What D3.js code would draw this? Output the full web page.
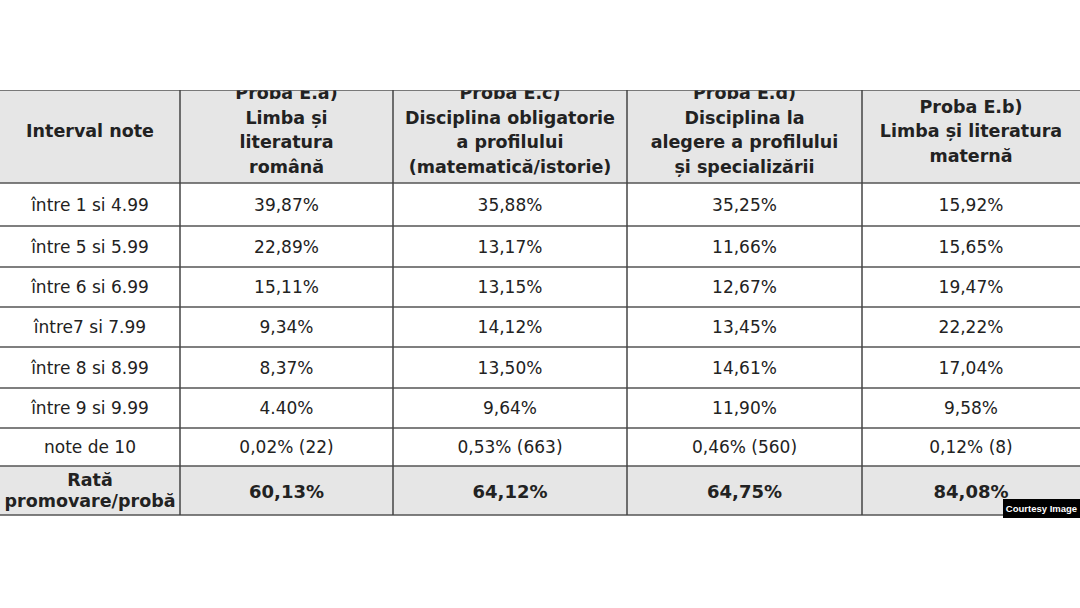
<!DOCTYPE html>
<html><head><meta charset="utf-8">
<script src="https://cdn.jsdelivr.net/npm/d3@7"></script>
<style>body{margin:0;background:#fff}</style></head>
<body><svg id="c" width="1080" height="608"></svg>
<script>
const headers = [
  ["Interval note"],
  ["Proba E.a)","Limba și","literatura","română"],
  ["Proba E.c)","Disciplina obligatorie","a profilului","(matematică/istorie)"],
  ["Proba E.d)","Disciplina la","alegere a profilului","și specializării"],
  ["Proba E.b)","Limba și literatura","maternă"]
];
const intervals = ["între 1 si 4.99","între 5 si 5.99","între 6 si 6.99","între7 si 7.99","între 8 si 8.99","între 9 si 9.99","note de 10"];
const probaEa = ["39,87%","22,89%","15,11%","9,34%","8,37%","4.40%","0,02% (22)"];
const probaEc = ["35,88%","13,17%","13,15%","14,12%","13,50%","9,64%","0,53% (663)"];
const probaEd = ["35,25%","11,66%","12,67%","13,45%","14,61%","11,90%","0,46% (560)"];
const probaEb = ["15,92%","15,65%","19,47%","22,22%","17,04%","9,58%","0,12% (8)"];
const rataLabel = ["Rată","promovare/probă"];
const rata = ["60,13%","64,12%","64,75%","84,08%"];

const svg = d3.select("#c");
const colEdges = [0,180,393,627,862,1080];
const rowEdges = [90,183,226,267,307,347,388,428,466,515];
const cx = i => (colEdges[i]+colEdges[i+1])/2;
const y = i => rowEdges[i], cy = i => (rowEdges[i]+rowEdges[i+1])/2;
const font = "'DejaVu Sans', Verdana, sans-serif";
const col = "#222";

svg.append("defs").append("clipPath").attr("id","cl").append("rect").attr("x",0).attr("y",90).attr("width",1080).attr("height",430);
const g = svg.append("g").attr("clip-path","url(#cl)");
g.append("rect").attr("x",0).attr("y",y(0)).attr("width",1080).attr("height",y(1)-y(0)).attr("fill","#e6e6e6");
g.append("rect").attr("x",0).attr("y",y(8)).attr("width",1080).attr("height",y(9)-y(8)).attr("fill","#e6e6e6");

headers.forEach((lines,c)=>{
  const n = lines.length, lh = 24.5;
  const mid = n===4 ? 130 : 131;
  lines.forEach((t,k)=>{
    g.append("text").attr("x",cx(c)).attr("y",mid+(k-(n-1)/2)*lh+6)
     .attr("text-anchor","middle").attr("font-family",font).attr("font-size",17.5)
     .attr("font-weight","bold").attr("fill",col).text(t);
  });
});
const cols = [intervals, probaEa, probaEc, probaEd, probaEb];
cols.forEach((arr,c)=>arr.forEach((t,r)=>{
  g.append("text").attr("x",cx(c)).attr("y",cy(r+1)+6).attr("text-anchor","middle")
   .attr("font-family",font).attr("font-size",17).attr("fill",col).text(t);
}));
rataLabel.forEach((t,k)=>g.append("text").attr("x",cx(0)).attr("y",cy(8)+(k-0.5)*21+6)
  .attr("text-anchor","middle").attr("font-family",font).attr("font-size",17.5).attr("font-weight","bold").attr("fill",col).text(t));
rata.forEach((t,c)=>g.append("text").attr("x",cx(c+1)).attr("y",cy(8)+7).attr("text-anchor","middle")
  .attr("font-family",font).attr("font-size",18).attr("font-weight","bold").attr("fill",col).text(t));

rowEdges.forEach(v=>g.append("line").attr("x1",0).attr("x2",1080).attr("y1",v).attr("y2",v).attr("stroke","#555").attr("stroke-width",1.5));
colEdges.slice(1,5).forEach(v=>g.append("line").attr("x1",v).attr("x2",v).attr("y1",y(0)).attr("y2",y(9)).attr("stroke","#444").attr("stroke-width",1.5));

svg.append("rect").attr("x",1003).attr("y",499).attr("width",77).attr("height",19).attr("fill","#000");
svg.append("text").attr("x",1041.5).attr("y",512).attr("text-anchor","middle").attr("font-family","'Liberation Sans',Arial,sans-serif")
  .attr("font-size",9.5).attr("font-weight","bold").attr("fill","#fff").text("Courtesy Image");
</script></body></html>
